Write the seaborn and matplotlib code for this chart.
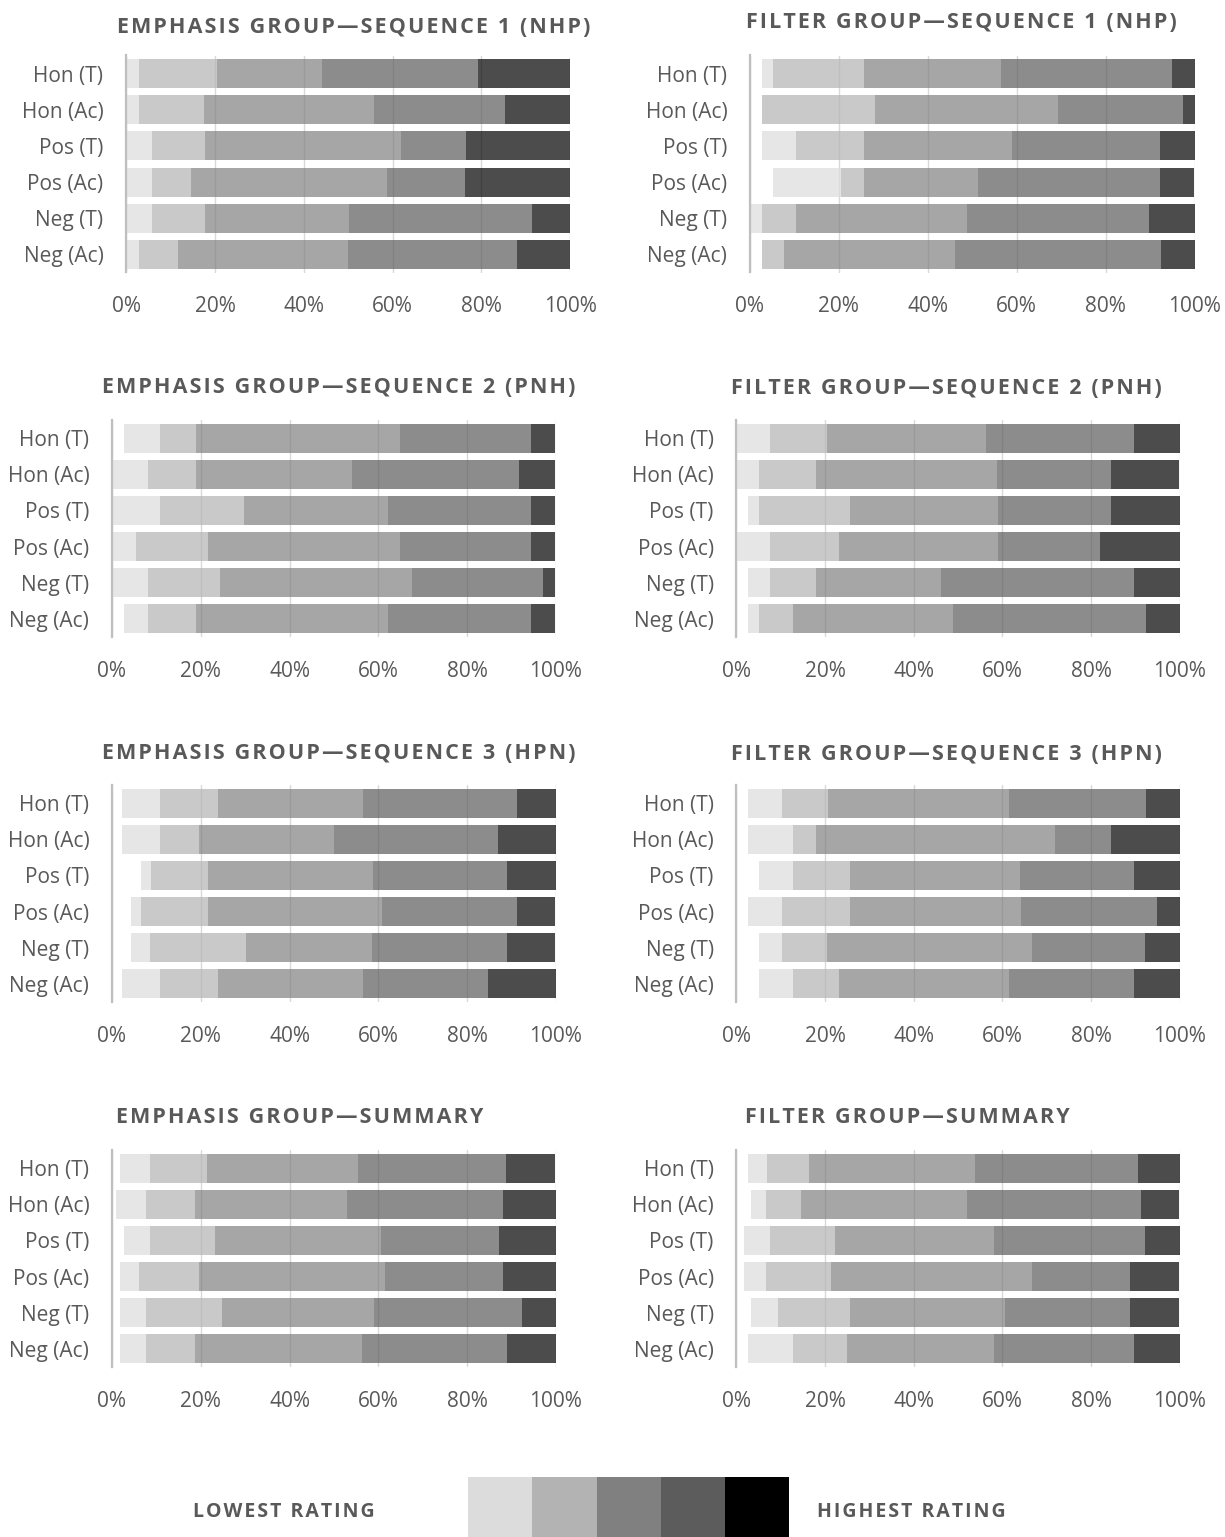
import numpy as np
import matplotlib
matplotlib.use("Agg")
import matplotlib.pyplot as plt
import seaborn as sns
from matplotlib.colors import ListedColormap

sns.set_theme(style="white")
plt.rcParams["font.family"] = ["Open Sans", "DejaVu Sans"]

# ---------------------------------------------------------------- data
items = ["Hon (T)", "Hon (Ac)", "Pos (T)", "Pos (Ac)", "Neg (T)", "Neg (Ac)"]
rating_colors = ["#dcdcdc", "#b3b3b3", "#808080", "#5c5c5c", "#000000"]
x_ticks = [0, 20, 40, 60, 80, 100]
x_tick_labels = ["0%", "20%", "40%", "60%", "80%", "100%"]

# share of responses in %, per item: no rating given, then ratings 1 (lowest) .. 5 (highest)
emph_s1_none = [0.0, 0.0, 0.0, 0.0, 0.0, 0.0]
emph_s1_r1 = [2.9, 2.9, 5.9, 5.9, 5.9, 2.9]
emph_s1_r2 = [17.6, 14.7, 11.8, 8.8, 11.8, 8.8]
emph_s1_r3 = [23.5, 38.2, 44.1, 44.1, 32.4, 38.2]
emph_s1_r4 = [35.3, 29.4, 14.7, 17.6, 41.2, 38.2]
emph_s1_r5 = [20.6, 14.7, 23.5, 23.5, 8.8, 11.8]

filt_s1_none = [2.6, 2.6, 2.6, 5.1, 0.0, 2.6]
filt_s1_r1 = [2.6, 0.0, 7.7, 15.4, 2.6, 0.0]
filt_s1_r2 = [20.5, 25.6, 15.4, 5.1, 7.7, 5.1]
filt_s1_r3 = [30.8, 41.0, 33.3, 25.6, 38.5, 38.5]
filt_s1_r4 = [38.5, 28.2, 33.3, 41.0, 41.0, 46.2]
filt_s1_r5 = [5.1, 2.6, 7.7, 7.7, 10.3, 7.7]

emph_s2_none = [2.7, 0.0, 0.0, 0.0, 0.0, 2.7]
emph_s2_r1 = [8.1, 8.1, 10.8, 5.4, 8.1, 5.4]
emph_s2_r2 = [8.1, 10.8, 18.9, 16.2, 16.2, 10.8]
emph_s2_r3 = [45.9, 35.1, 32.4, 43.2, 43.2, 43.2]
emph_s2_r4 = [29.7, 37.8, 32.4, 29.7, 29.7, 32.4]
emph_s2_r5 = [5.4, 8.1, 5.4, 5.4, 2.7, 5.4]

filt_s2_none = [0.0, 0.0, 2.6, 0.0, 2.6, 2.6]
filt_s2_r1 = [7.7, 5.1, 2.6, 7.7, 5.1, 2.6]
filt_s2_r2 = [12.8, 12.8, 20.5, 15.4, 10.3, 7.7]
filt_s2_r3 = [35.9, 41.0, 33.3, 35.9, 28.2, 35.9]
filt_s2_r4 = [33.3, 25.6, 25.6, 23.1, 43.6, 43.6]
filt_s2_r5 = [10.3, 15.4, 15.4, 17.9, 10.3, 7.7]

emph_s3_none = [2.2, 2.2, 6.5, 4.3, 4.3, 2.2]
emph_s3_r1 = [8.7, 8.7, 2.2, 2.2, 4.3, 8.7]
emph_s3_r2 = [13.0, 8.7, 13.0, 15.2, 21.7, 13.0]
emph_s3_r3 = [32.6, 30.4, 37.0, 39.1, 28.3, 32.6]
emph_s3_r4 = [34.8, 37.0, 30.4, 30.4, 30.4, 28.3]
emph_s3_r5 = [8.7, 13.0, 10.9, 8.7, 10.9, 15.2]

filt_s3_none = [2.6, 2.6, 5.1, 2.6, 5.1, 5.1]
filt_s3_r1 = [7.7, 10.3, 7.7, 7.7, 5.1, 7.7]
filt_s3_r2 = [10.3, 5.1, 12.8, 15.4, 10.3, 10.3]
filt_s3_r3 = [41.0, 53.8, 38.5, 38.5, 46.2, 38.5]
filt_s3_r4 = [30.8, 12.8, 25.6, 30.8, 25.6, 28.2]
filt_s3_r5 = [7.7, 15.4, 10.3, 5.1, 7.7, 10.3]

emph_sum_none = [1.7, 0.9, 2.6, 1.7, 1.7, 1.7]
emph_sum_r1 = [6.8, 6.8, 6.0, 4.3, 6.0, 6.0]
emph_sum_r2 = [12.8, 11.1, 14.5, 13.7, 17.1, 11.1]
emph_sum_r3 = [34.2, 34.2, 37.6, 41.9, 34.2, 37.6]
emph_sum_r4 = [33.3, 35.0, 26.5, 26.5, 33.3, 32.5]
emph_sum_r5 = [11.1, 12.0, 12.8, 12.0, 7.7, 11.1]

filt_sum_none = [2.6, 3.4, 1.7, 1.7, 3.4, 2.6]
filt_sum_r1 = [4.3, 3.4, 6.0, 5.1, 6.0, 10.3]
filt_sum_r2 = [9.4, 7.7, 14.5, 14.5, 16.2, 12.0]
filt_sum_r3 = [37.6, 37.6, 35.9, 45.3, 35.0, 33.3]
filt_sum_r4 = [36.8, 39.3, 34.2, 22.2, 28.2, 31.6]
filt_sum_r5 = [9.4, 8.5, 7.7, 11.1, 11.1, 10.3]

legend_levels = [1, 2, 3, 4, 5]

# ---------------------------------------------------------------- layout
W, H = 1225, 1537
TEXT = "#595959"
fig = plt.figure(figsize=(W / 100, H / 100), dpi=100)
fig.patch.set_facecolor("white")


def spaced(s):
    """Letter-spaced text using hair spaces between characters."""
    return "\u200a".join(s)


def add_axes_px(x0, x1, y0, y1):
    return fig.add_axes([x0 / W, 1 - y1 / H, (x1 - x0) / W, (y1 - y0) / H])


def draw_panel(ax, none, ratings):
    left = np.asarray(none, dtype=float)
    for vals, col in zip(ratings, rating_colors):
        vals = np.asarray(vals, dtype=float)
        sns.barplot(x=vals, y=items, orient="y", color=col, saturation=1,
                    alpha=0.7, width=0.8, errorbar=None, linewidth=0,
                    left=left, ax=ax)
        left = left + vals
    ax.set_xlim(0, 100)
    ax.set_ylim(len(items) - 0.5, -0.5)
    ax.set_xticks(x_ticks)
    ax.set_xticklabels(x_tick_labels)
    ax.set_xlabel("")
    ax.set_ylabel("")
    ax.set_facecolor("none")
    ax.set_axisbelow(True)
    ax.xaxis.grid(True, color="#d9d9d9", linewidth=1.0)
    ax.yaxis.grid(False)
    for side in ("top", "right", "bottom"):
        ax.spines[side].set_visible(False)
    ax.spines["left"].set_color("#bfbfbf")
    ax.spines["left"].set_linewidth(1.6)
    ax.tick_params(axis="y", length=0, pad=16.3, labelsize=15, labelcolor=TEXT)
    ax.tick_params(axis="x", length=0, pad=17.0, labelsize=15, labelcolor=TEXT)


panels = [
    ("EMPHASIS GROUP—SEQUENCE 1 (NHP)", emph_s1_none,
     [emph_s1_r1, emph_s1_r2, emph_s1_r3, emph_s1_r4, emph_s1_r5],
     (126.1, 570.3, 55.5, 272.5), (353.4, 33.3)),
    ("FILTER GROUP—SEQUENCE 1 (NHP)", filt_s1_none,
     [filt_s1_r1, filt_s1_r2, filt_s1_r3, filt_s1_r4, filt_s1_r5],
     (750.0, 1194.5, 55.5, 272.5), (960.9, 28.3)),
    ("EMPHASIS GROUP—SEQUENCE 2 (PNH)", emph_s2_none,
     [emph_s2_r1, emph_s2_r2, emph_s2_r3, emph_s2_r4, emph_s2_r5],
     (112.0, 555.8, 420.0, 637.0), (338.8, 393.3)),
    ("FILTER GROUP—SEQUENCE 2 (PNH)", filt_s2_none,
     [filt_s2_r1, filt_s2_r2, filt_s2_r3, filt_s2_r4, filt_s2_r5],
     (736.3, 1179.6, 420.0, 637.0), (946.8, 394.0)),
    ("EMPHASIS GROUP—SEQUENCE 3 (HPN)", emph_s3_none,
     [emph_s3_r1, emph_s3_r2, emph_s3_r3, emph_s3_r4, emph_s3_r5],
     (112.0, 555.8, 785.0, 1002.0), (338.8, 759.0)),
    ("FILTER GROUP—SEQUENCE 3 (HPN)", filt_s3_none,
     [filt_s3_r1, filt_s3_r2, filt_s3_r3, filt_s3_r4, filt_s3_r5],
     (736.3, 1179.6, 785.0, 1002.0), (946.8, 760.0)),
    ("EMPHASIS GROUP—SUMMARY", emph_sum_none,
     [emph_sum_r1, emph_sum_r2, emph_sum_r3, emph_sum_r4, emph_sum_r5],
     (112.0, 555.8, 1150.0, 1367.0), (299.8, 1123.3)),
    ("FILTER GROUP—SUMMARY", filt_sum_none,
     [filt_sum_r1, filt_sum_r2, filt_sum_r3, filt_sum_r4, filt_sum_r5],
     (736.3, 1179.6, 1150.0, 1367.0), (907.1, 1123.3)),
]

for title, none, ratings, box, (tx, ty) in panels:
    ax = add_axes_px(*box)
    draw_panel(ax, none, ratings)
    fig.text(tx / W, 1 - ty / H, spaced(title), ha="center", va="baseline",
             fontsize=15.5, fontweight="bold", color=TEXT)

# ---------------------------------------------------------------- legend
lax = add_axes_px(468.3, 789.0, 1476.7, 1537.0)
sns.heatmap(np.array([legend_levels]), cmap=ListedColormap(rating_colors),
            cbar=False, xticklabels=False, yticklabels=False, ax=lax)
lax.set_xlabel("")
lax.set_ylabel("")
fig.text(283.5 / W, 1 - 1517.3 / H, spaced("LOWEST RATING"), ha="center",
         va="baseline", fontsize=14, fontweight="bold", color=TEXT)
fig.text(911.5 / W, 1 - 1517.3 / H, spaced("HIGHEST RATING"), ha="center",
         va="baseline", fontsize=14, fontweight="bold", color=TEXT)

fig.savefig("out.png", dpi=100, facecolor="white")
